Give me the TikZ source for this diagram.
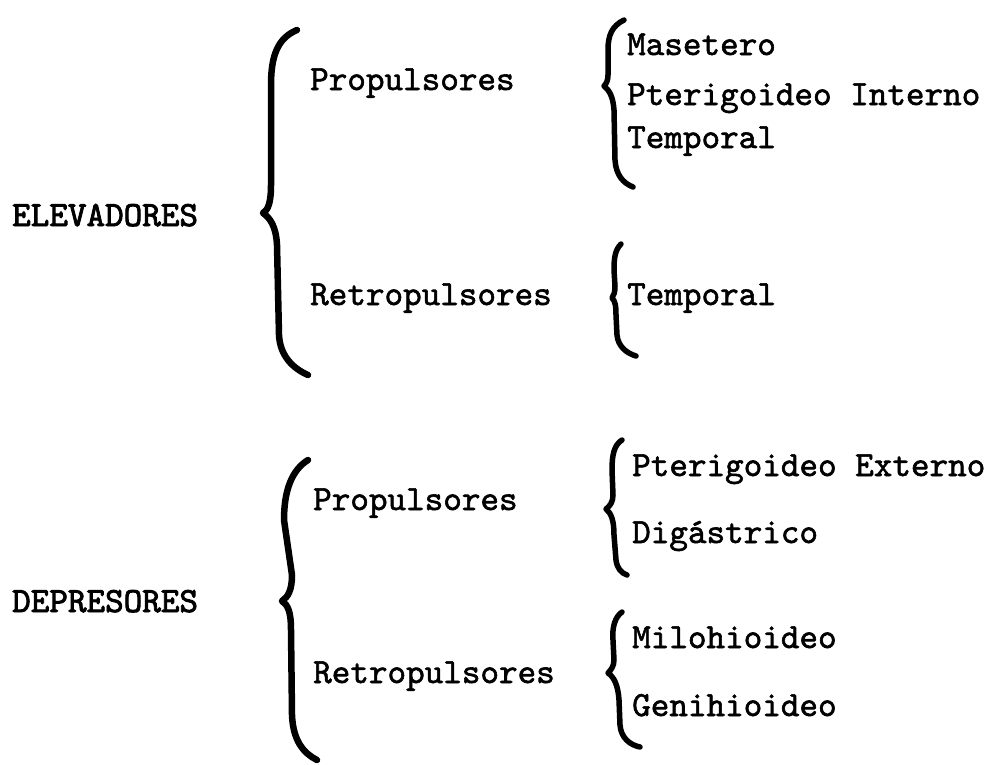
\documentclass[tikz,border=0pt]{standalone}
\usepackage{fontspec}
\setmainfont{lmmono10-regular.otf}[FakeBold=1.6]
\newfontfamily\capsfont{lmmono10-regular.otf}[FakeBold=2.4]
\usepackage{tikz}
\tikzstyle{group} = [inner sep=0pt, anchor=base west, font=\capsfont\fontsize{35.4}{35.4}\selectfont]
\tikzstyle{action} = [inner sep=0pt, anchor=base west, font=\fontsize{35.4}{35.4}\selectfont]
\tikzstyle{muscle} = [inner sep=0pt, anchor=base west, font=\fontsize{35.4}{35.4}\selectfont]
\tikzstyle{bigbrace} = [line width=6.5pt, line cap=round, line join=round]
\tikzstyle{smallbrace} = [line width=5.5pt, line cap=round, line join=round]

\begin{document}
\begin{tikzpicture}[x=1pt, y=-1pt]
\useasboundingbox (0,0) rectangle (996,764);

\node(elev)[group] at (12,226){ELEVADORES};
\node(depr)[group] at (12,612){DEPRESORES};

\node(epro)[action] at (310,90){Propulsores};
\node(eret)[action] at (310,305){Retropulsores};
\node(dpro)[action] at (313,510){Propulsores};
\node(dret)[action] at (313,683){Retropulsores};

\node(mas)[muscle] at (627,55){Masetero};
\node(pint)[muscle] at (627,105){Pterigoideo Interno};
\node(temp)[muscle] at (627,148){Temporal};
\node(tempr)[muscle] at (627,305){Temporal};
\node(pext)[muscle] at (632,476){Pterigoideo Externo};
\node(dig)[muscle] at (632,543){Digástrico};
\node(milo)[muscle] at (632,648){Milohioideo};
\node(geni)[muscle] at (632,716){Genihioideo};

% big braces
\draw[bigbrace] (297,30) .. controls (278,38) and (271,55) .. (271,85) -- (271,185)
  .. controls (271,203) and (268,210) .. (263,213) .. controls (270,218) and (276,226) .. (277,245)
  -- (279,335) .. controls (280,355) and (292,368) .. (308,375);
\draw[bigbrace] (308,460) .. controls (292,470) and (284,490) .. (284,520) -- (292,575)
  .. controls (292,590) and (288,597) .. (282,601) .. controls (288,605) and (291,612) .. (291,630)
  -- (292,715) .. controls (293,740) and (303,753) .. (317,760);

% small braces
\draw[smallbrace] (624,20) .. controls (612,26) and (608,35) .. (608,50) -- (608,75)
  .. controls (608,81) and (606,84) .. (604,86) .. controls (609,90) and (613,96) .. (614,110)
  -- (615,160) .. controls (616,175) and (623,183) .. (633,187);
\draw[smallbrace] (621,244) .. controls (615,250) and (614,258) .. (614,270) -- (615,286)
  .. controls (615,292) and (614,295) .. (612,298) .. controls (615,301) and (616,305) .. (616,315)
  -- (617,335) .. controls (618,346) and (626,353) .. (636,356);
\draw[smallbrace] (622,440) .. controls (614,445) and (612,455) .. (612,470) -- (613,495)
  .. controls (613,502) and (610,506) .. (606,509) .. controls (611,513) and (614,520) .. (614,535)
  -- (616,560) .. controls (617,568) and (621,573) .. (627,575);
\draw[smallbrace] (622,612) .. controls (615,617) and (612,627) .. (613,640) -- (614,660)
  .. controls (614,666) and (611,670) .. (608,673) .. controls (614,677) and (618,685) .. (619,700)
  -- (620,725) .. controls (621,738) and (630,745) .. (640,747);

\end{tikzpicture}
\end{document}
